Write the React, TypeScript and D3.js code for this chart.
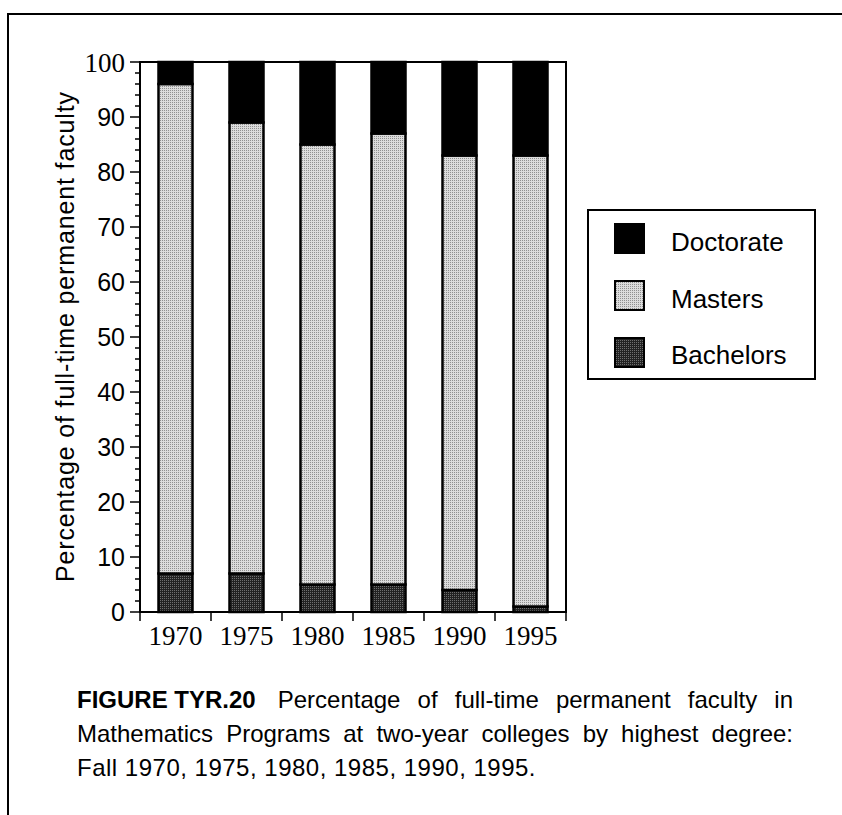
import React from "react";
import * as d3 from "d3";

const years = ["1970", "1975", "1980", "1985", "1990", "1995"];
const bachelors = [7, 7, 5, 5, 4, 1];
const masters = [89, 82, 80, 82, 79, 82];
const doctorate = [4, 11, 15, 13, 17, 17];
const seriesNames = ["Bachelors", "Masters", "Doctorate"];
const legendOrder = ["Doctorate", "Masters", "Bachelors"];
const yTicks = [0, 10, 20, 30, 40, 50, 60, 70, 80, 90, 100];
const yMinor = d3.range(0, 101, 2);
const captionBold = "FIGURE TYR.20";
const captionLine1 = "Percentage of full-time permanent faculty in";
const captionLine2 = "Mathematics Programs at two-year colleges by highest degree:";
const captionLine3 = "Fall 1970, 1975, 1980, 1985, 1990, 1995.";
const yTitle = "Percentage of full-time permanent faculty";

const W = 842, H = 815;
const SANS = "'Liberation Sans', Arial, Helvetica, sans-serif";
const SERIF = "'Liberation Serif', 'Times New Roman', serif";

function measure(text: string, font: string) {
  const c = document.createElement("canvas").getContext("2d");
  if (!c) return text.length * 10;
  c.font = font;
  return c.measureText(text).width;
}

export default function App() {
  const left = 140, right = 566, top = 62, bottom = 612;
  const x = d3.scaleBand<string>().domain(years).range([left, right]).padding(0);
  const y = d3.scaleLinear().domain([0, 100]).range([bottom, top]);
  const barW = 34;

  const rows = years.map((yr, i) => ({ year: yr, Bachelors: bachelors[i], Masters: masters[i], Doctorate: doctorate[i] }));
  const stack = d3.stack<any>().keys(seriesNames)(rows);
  const fills: Record<string, string> = { Bachelors: "url(#patDark)", Masters: "url(#patLight)", Doctorate: "#000" };

  // caption justification
  const capSize = 24;
  const capLeft = 77, capRight = 793;
  const fontN = `${capSize}px ${SANS}`;
  const fontB = `bold ${capSize}px ${SANS}`;
  const wBold = measure(captionBold, fontB);
  const gap1 = 22;
  const w1 = measure(captionLine1, fontN);
  const sp1 = captionLine1.split(" ").length - 1;
  const ws1 = Math.max(0, (capRight - capLeft - wBold - gap1 - w1) / sp1);
  const w2 = measure(captionLine2, fontN);
  const sp2 = captionLine2.split(" ").length - 1;
  const ws2 = Math.max(0, (capRight - capLeft - w2) / sp2);

  return (
    <svg width={W} height={H} style={{ position: "absolute", left: 0, top: 0, background: "#fff" }}>
      <defs>
        <pattern id="patLight" width="2" height="2" patternUnits="userSpaceOnUse">
          <rect width="2" height="2" fill="#dcdcdc" />
          <rect width="1" height="1" fill="#909090" />
        </pattern>
        <pattern id="patDark" width="2" height="2" patternUnits="userSpaceOnUse">
          <rect width="2" height="2" fill="#222" />
          <rect width="1" height="1" fill="#6e6e6e" />
        </pattern>
      </defs>
      <rect width={W} height={H} fill="#fff" />
      {/* outer figure border */}
      <path d={`M8,${H} L8,14 L${W},14`} fill="none" stroke="#000" strokeWidth={2} />

      {/* bars */}
      {stack.map((s) => (
        <g key={s.key}>
          {s.map((d, i) => (
            <rect
              key={i}
              x={(x(years[i]) as number) + x.bandwidth() / 2 - barW / 2}
              y={y(d[1])}
              width={barW}
              height={y(d[0]) - y(d[1])}
              fill={fills[s.key]}
              stroke="#000"
              strokeWidth={2.5}
            />
          ))}
        </g>
      ))}

      {/* plot frame */}
      <rect x={left} y={top} width={right - left} height={bottom - top} fill="none" stroke="#000" strokeWidth={2} />

      {/* y ticks */}
      {yMinor.filter((v) => v % 10 !== 0).map((v) => (
        <line key={"m" + v} x1={left - 5} x2={left} y1={y(v)} y2={y(v)} stroke="#000" strokeWidth={1.5} />
      ))}
      {yTicks.map((v) => (
        <g key={v}>
          <line x1={left - 10} x2={left} y1={y(v)} y2={y(v)} stroke="#000" strokeWidth={1.5} />
          <text
            x={125}
            y={y(v)}
            dy="0.36em"
            textAnchor="end"
            fontFamily={v === 100 ? SERIF : SANS}
            fontSize={v === 100 ? 27 : 25}
            fill="#000"
          >
            {v}
          </text>
        </g>
      ))}

      {/* x ticks */}
      {years.map((yr) => (
        <line key={"t" + yr} x1={x(yr) as number} x2={x(yr) as number} y1={bottom} y2={bottom + 9} stroke="#000" strokeWidth={1.5} />
      ))}
      <line x1={right} x2={right} y1={bottom} y2={bottom + 9} stroke="#000" strokeWidth={1.5} />
      {years.map((yr) => (
        <text
          key={"l" + yr}
          x={(x(yr) as number) + x.bandwidth() / 2}
          y={645}
          textAnchor="middle"
          fontFamily={SERIF}
          fontSize={27}
          fill="#000"
        >
          {yr}
        </text>
      ))}

      {/* y title */}
      <text
        transform="translate(74,337) rotate(-90)"
        textAnchor="middle"
        fontFamily={SANS}
        fontSize={25}
        textLength={490}
        lengthAdjust="spacing"
        fill="#000"
      >
        {yTitle}
      </text>

      {/* legend */}
      <rect x={588} y={210} width={227} height={169} fill="#fff" stroke="#000" strokeWidth={2} />
      {legendOrder.map((k, i) => (
        <g key={k}>
          <rect x={615} y={224 + i * 57} width={29} height={29} fill={fills[k]} stroke="#000" strokeWidth={2} />
          <text x={671} y={251 + i * 56.5} fontFamily={SANS} fontSize={26} fill="#000">
            {k}
          </text>
        </g>
      ))}

      {/* caption */}
      <text x={capLeft} y={708} fontFamily={SANS} fontSize={capSize} fill="#000">
        <tspan fontWeight="bold">{captionBold}</tspan>
        <tspan x={capLeft + wBold + gap1} wordSpacing={ws1}>{captionLine1}</tspan>
      </text>
      <text x={capLeft} y={742} fontFamily={SANS} fontSize={capSize} fill="#000" wordSpacing={ws2}>
        {captionLine2}
      </text>
      <text x={capLeft} y={776} fontFamily={SANS} fontSize={capSize} fill="#000" letterSpacing={0.5}>
        {captionLine3}
      </text>
    </svg>
  );
}
